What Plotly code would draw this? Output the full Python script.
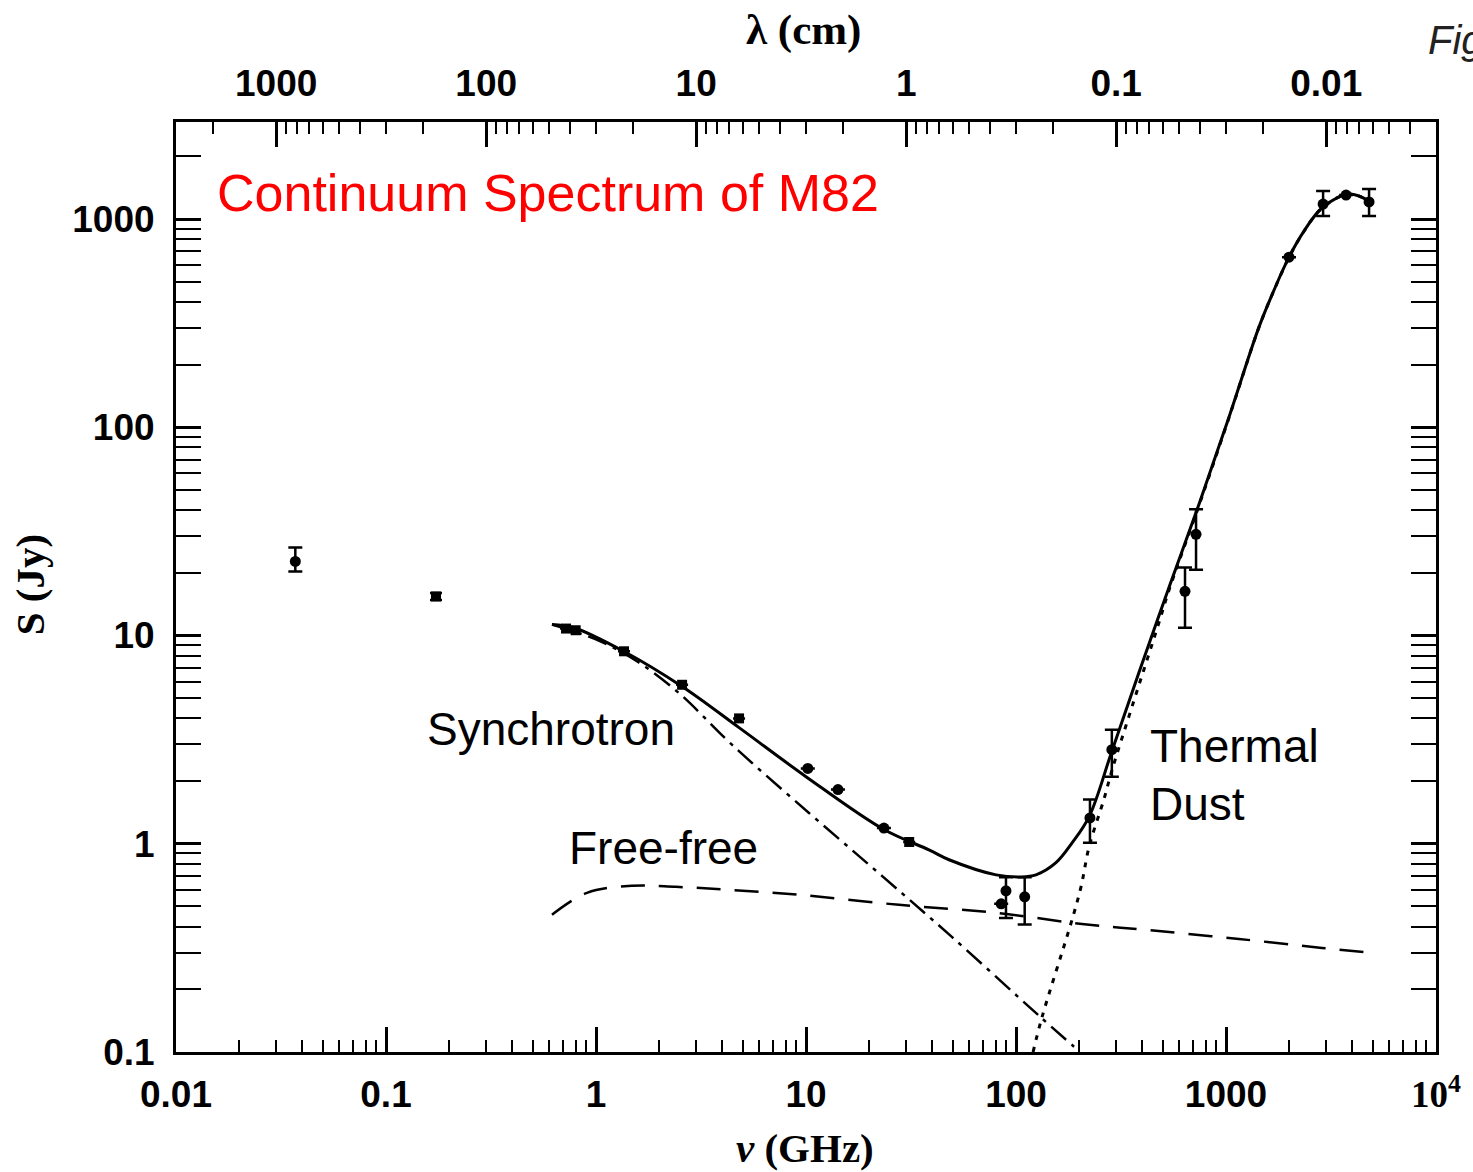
import numpy as np
import plotly.graph_objects as go

# ---------------- data ----------------
# measured points drawn as filled circles
circ_nu = [0.037, 10.2, 14.2, 23.5, 85.0, 89.6, 110.0, 225.0, 286.0, 638.0, 720.0, 1995.0, 2900.0, 3730.0, 4800.0]
circ_S = [22.7, 2.3, 1.82, 1.19, 0.515, 0.594, 0.556, 1.33, 2.83, 16.3, 30.6, 656.0, 1180.0, 1303.0, 1208.0]
circ_hi = [26.5, None, None, None, None, 0.69, 0.69, 1.63, 3.53, 21.2, 40.4, None, 1365.0, None, 1393.0]
circ_lo = [20.3, None, None, None, None, 0.44, 0.41, 1.01, 2.10, 10.9, 20.7, None, 1033.0, None, 1033.0]

# measured points drawn as filled squares
sq_nu = [0.173, 0.72, 0.80, 1.36, 2.57, 4.8, 31.0]
sq_S = [15.4, 10.8, 10.6, 8.4, 5.8, 4.0, 1.02]
sq_hi = [16.0, None, None, None, None, None, None]
sq_lo = [14.8, None, None, None, None, None, None]

# total model (solid)
tot_nu = [0.617, 0.785, 1.36, 2.57, 4.80, 10.0, 23.5, 38.5, 48.0, 80.4, 105.6, 124.5, 155.0, 185.0,
          223.0, 286.6, 385.0, 535.0, 743.0, 1033.0, 1435.0, 1693.0, 1995.0, 2352.0, 2864.0, 3853.0, 4800.0]
tot_S = [11.3, 10.9, 8.38, 5.69, 3.61, 2.10, 1.17, 0.935, 0.838, 0.709, 0.693, 0.709, 0.811, 1.01,
         1.35, 2.80, 6.64, 17.0, 42.6, 111.7, 302.6, 455.6, 656.0, 875.0, 1130.0, 1319.0, 1221.0]

# synchrotron (dash-dot)
syn_nu = [0.617, 1.03, 1.60, 2.48, 4.44, 10.3, 23.0, 49.5, 129.0, 189.0]
syn_S = [11.3, 9.46, 7.42, 5.30, 2.99, 1.41, 0.701, 0.357, 0.149, 0.106]

# free-free (dashed)
ff_nu = [0.617, 0.906, 1.48, 2.40, 4.29, 9.26, 27.7, 80.4, 206.0, 464.0, 1153.0, 2864.0, 4955.0]
ff_S = [0.456, 0.581, 0.628, 0.621, 0.601, 0.569, 0.509, 0.466, 0.412, 0.382, 0.349, 0.316, 0.299]

# thermal dust (dotted)
dust_nu = [120.6, 133.0, 183.0, 204.0, 223.0, 262.0, 287.0, 357.0, 479.0, 535.0, 743.0, 1033.0,
           1435.0, 1693.0, 1995.0, 2352.0, 2864.0, 3853.0, 4800.0]
dust_S = [0.1, 0.147, 0.417, 0.621, 0.969, 1.63, 2.27, 4.56, 11.5, 16.5, 42.0, 111.0,
          302.0, 455.0, 655.0, 874.0, 1129.0, 1318.0, 1220.0]

# axis ticks
nu_ticks = [0.01, 0.1, 1, 10, 100, 1000, 10000]
nu_ticktext = ["0.01", "0.1", "1", "10", "100", "1000",
               "<span style='font-family:Liberation Serif'>10<sup>4</sup></span>"]
lam_ticks = [1000, 100, 10, 1, 0.1, 0.01]
lam_ticktext = ["1000", "100", "10", "1", "0.1", "0.01"]
S_ticks = [0.1, 1, 10, 100, 1000]
S_ticktext = ["0.1", "1", "10", "100", "1000"]

C_CM_GHZ = 30.0  # lambda[cm] = 30 / nu[GHz]

# ---------------- layout geometry ----------------
W, H = 1473, 1172
L, R, T, B = 176, 1438, 122, 1052
PW, PH = R - L, B - T


def paper(x, y):
    return (x - L) / PW, (B - y) / PH


def minor_vals(lo_exp, hi_exp):
    return [k * 10.0 ** e for e in range(lo_exp, hi_exp + 1) for k in range(2, 10)]


def errs(vals, hi, lo):
    plus = [None if h is None else h - v for v, h in zip(vals, hi)]
    minus = [None if l is None else v - l for v, l in zip(vals, lo)]
    return plus, minus


fig = go.Figure()

# model curves
fig.add_trace(go.Scatter(x=ff_nu, y=ff_S, mode="lines",
                         line=dict(color="black", width=2.5, dash="24px,14px", shape="spline")))
fig.add_trace(go.Scatter(x=syn_nu, y=syn_S, mode="lines",
                         line=dict(color="black", width=2.5, dash="20px,7px,4px,7px", shape="spline")))
fig.add_trace(go.Scatter(x=dust_nu, y=dust_S, mode="lines",
                         line=dict(color="black", width=3, dash="5px,7px", shape="spline")))
fig.add_trace(go.Scatter(x=tot_nu, y=tot_S, mode="lines",
                         line=dict(color="black", width=3, shape="spline")))

# measurements
cp, cm = errs(circ_S, circ_hi, circ_lo)
fig.add_trace(go.Scatter(x=circ_nu, y=circ_S, mode="markers",
                         marker=dict(symbol="circle", size=11, color="black"),
                         error_y=dict(type="data", symmetric=False, array=cp, arrayminus=cm,
                                      color="black", thickness=2.5, width=7)))
sp, sm = errs(sq_S, sq_hi, sq_lo)
fig.add_trace(go.Scatter(x=sq_nu, y=sq_S, mode="markers",
                         marker=dict(symbol="square", size=10, color="black"),
                         error_y=dict(type="data", symmetric=False, array=sp, arrayminus=sm,
                                      color="black", thickness=2.5, width=6)))

tickfont = dict(family="Liberation Sans", size=37, color="black", weight="bold")
axis_common = dict(type="log", showgrid=False, zeroline=False, showline=True, linecolor="black",
                   linewidth=3, ticks="inside", tickcolor="black", tickwidth=2.5, ticklen=25)

fig.update_layout(
    width=W, height=H,
    margin=dict(l=L, r=W - R, t=T, b=H - B, pad=0),
    paper_bgcolor="white", plot_bgcolor="white",
    showlegend=False,
    xaxis=dict(**axis_common, range=[-2, 4], tickvals=nu_ticks, ticktext=nu_ticktext,
               tickfont=tickfont, ticklabelstandoff=8, mirror=False,
               minor=dict(tickvals=minor_vals(-2, 3), ticks="inside", ticklen=12,
                          tickwidth=2, tickcolor="black")),
    xaxis2=dict(**axis_common, overlaying="x", side="top", anchor="y",
                range=[np.log10(C_CM_GHZ / 0.01), np.log10(C_CM_GHZ / 1e4)],
                tickvals=lam_ticks, ticktext=lam_ticktext, tickfont=tickfont, ticklabelstandoff=8,
                minor=dict(tickvals=minor_vals(-3, 3), ticks="inside", ticklen=12,
                           tickwidth=2, tickcolor="black")),
    yaxis=dict(**axis_common, range=[-1, 3.466], tickvals=S_ticks, ticktext=S_ticktext,
               tickfont=tickfont, ticklabelstandoff=11, mirror="allticks",
               minor=dict(tickvals=minor_vals(-1, 3), ticks="inside", ticklen=12,
                          tickwidth=2, tickcolor="black")),
)

# invisible trace on the wavelength axis so the top axis is drawn
fig.add_trace(go.Scatter(x=[C_CM_GHZ / v for v in nu_ticks[1:-1]], y=[1, 1, 1, 1, 1],
                         xaxis="x2", yaxis="y", mode="markers", marker=dict(opacity=0),
                         hoverinfo="skip"))

serif = dict(family="Liberation Serif", size=41, color="black", weight="bold")
sans = dict(family="Liberation Sans", size=46, color="black")

annots = [
    (806, 1148, "<i>ν</i> (GHz)", serif, "center", 0),
    (804, 30, "λ (cm)", dict(family="Liberation Serif", size=43, color="black", weight="bold"), "center", 0),
    (30, 585, "S (Jy)", serif, "center", -90),
    (215, 193, "Continuum Spectrum of M82", dict(family="Liberation Sans", size=52, color="#ff0000"), "left", 0),
    (425, 729, "Synchrotron", sans, "left", 0),
    (568, 848, "Free-free", sans, "left", 0),
    (1150, 746, "Thermal", sans, "left", 0),
    (1150, 804, "Dust", sans, "left", 0),
    (1428, 40, "<i>Fig</i>", dict(family="Liberation Sans", size=40, color="#222222"), "left", 0),
]
for x, y, txt, f, xa, ang in annots:
    px, py = paper(x, y)
    fig.add_annotation(x=px, y=py, xref="paper", yref="paper", text=txt, showarrow=False,
                       font=f, xanchor=xa, yanchor="middle", textangle=ang)

fig.write_html("out.html")
